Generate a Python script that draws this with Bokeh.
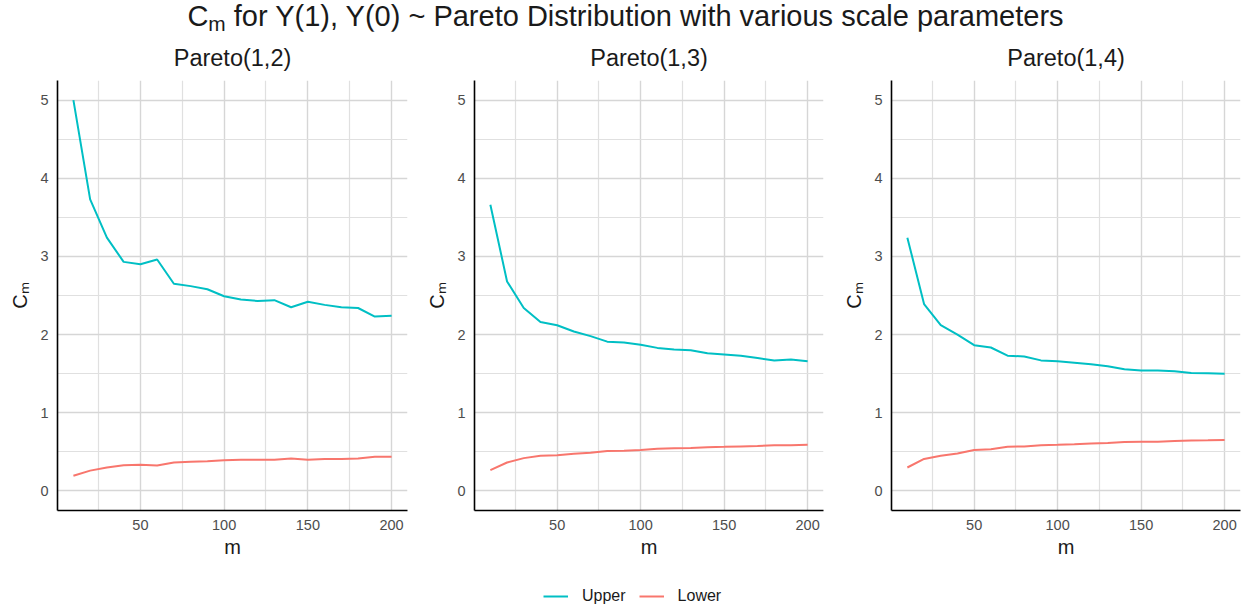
from bokeh.plotting import figure
from bokeh.models import (Range1d, FixedTicker, Div, Legend, LegendItem)
from bokeh.layouts import column, row
from bokeh.embed import file_html
from bokeh.resources import INLINE

# ---------------- data ----------------
m_values = [10, 20, 30, 40, 50, 60, 70, 80, 90, 100,
            110, 120, 130, 140, 150, 160, 170, 180, 190, 200]

panel_titles = ["Pareto(1,2)", "Pareto(1,3)", "Pareto(1,4)"]

upper_p2 = [5.00, 3.73, 3.24, 2.93, 2.90, 2.96, 2.65, 2.62, 2.58, 2.49,
            2.45, 2.43, 2.44, 2.35, 2.42, 2.38, 2.35, 2.34, 2.23, 2.24]
lower_p2 = [0.195, 0.26, 0.30, 0.33, 0.335, 0.326, 0.364, 0.373, 0.38, 0.394,
            0.40, 0.40, 0.40, 0.415, 0.40, 0.41, 0.41, 0.415, 0.436, 0.436]

upper_p3 = [3.66, 2.68, 2.34, 2.16, 2.12, 2.04, 1.98, 1.91, 1.90, 1.87,
            1.83, 1.81, 1.80, 1.76, 1.745, 1.73, 1.70, 1.67, 1.68, 1.66]
lower_p3 = [0.267, 0.364, 0.42, 0.45, 0.458, 0.475, 0.49, 0.51, 0.513, 0.525,
            0.54, 0.547, 0.55, 0.56, 0.564, 0.57, 0.576, 0.585, 0.585, 0.59]

upper_p4 = [3.24, 2.39, 2.12, 2.00, 1.865, 1.835, 1.73, 1.72, 1.67, 1.66,
            1.64, 1.62, 1.595, 1.556, 1.54, 1.54, 1.53, 1.51, 1.505, 1.50]
lower_p4 = [0.30, 0.41, 0.45, 0.48, 0.525, 0.534, 0.564, 0.57, 0.585, 0.59,
            0.597, 0.606, 0.614, 0.627, 0.63, 0.63, 0.64, 0.644, 0.648, 0.653]

x_major_ticks = [50, 100, 150, 200]
x_minor_ticks = [25, 75, 125, 175]
y_major_ticks = [0, 1, 2, 3, 4, 5]
y_minor_ticks = [0.5, 1.5, 2.5, 3.5, 4.5]

series_names = ["Upper", "Lower"]
UPPER_COLOR = "#00BFC4"
LOWER_COLOR = "#F8766D"
FONT = "Liberation Sans"

# ---------------- layout ----------------
title_div = Div(
    text='C<sub style="font-size:0.72em;vertical-align:-0.25em">m</sub> for Y(1), Y(0) ~ Pareto Distribution with various scale parameters',
    width=1247, height=31, margin=(0, 0, 0, 0),
    styles={"font-family": FONT, "font-size": "29px", "line-height": "32px",
            "text-align": "center", "color": "#1a1a1a", "width": "1247px",
            "padding-left": "4px"},
)

panels = [
    (panel_titles[0], upper_p2, lower_p2, 423, 57, 16),
    (panel_titles[1], upper_p3, lower_p3, 417, 50, 17),
    (panel_titles[2], upper_p4, lower_p4, 407, 50, 7),
]

figs = []
for title, up, lo, w, bl, br in panels:
    p = figure(width=w, height=534, output_backend="svg", toolbar_location=None,
               x_range=Range1d(0.5, 209.5), y_range=Range1d(-0.25, 5.25),
               min_border_left=bl, min_border_right=br, min_border_top=49,
               min_border_bottom=55, title=title)
    p.outline_line_color = None
    p.background_fill_color = "white"
    p.border_fill_color = "white"
    p.title.align = "center"
    p.title.text_font = FONT
    p.title.text_font_size = "23.5px"
    p.title.text_font_style = "normal"
    p.title.text_color = "#1a1a1a"
    p.title.standoff = 19

    p.xaxis.ticker = FixedTicker(ticks=x_major_ticks, minor_ticks=x_minor_ticks)
    p.yaxis.ticker = FixedTicker(ticks=y_major_ticks, minor_ticks=y_minor_ticks)
    for ax in (p.xaxis[0], p.yaxis[0]):
        ax.axis_line_color = "black"
        ax.axis_line_width = 1.6
        ax.major_tick_line_color = None
        ax.minor_tick_line_color = None
        ax.major_tick_in = 0
        ax.major_tick_out = 0
        ax.minor_tick_in = 0
        ax.minor_tick_out = 0
        ax.major_label_text_font = FONT
        ax.major_label_text_font_size = "14.5px"
        ax.major_label_text_color = "#4d4d4d"
        ax.axis_label_text_font = FONT
        ax.axis_label_text_font_size = "20px"
        ax.axis_label_text_font_style = "normal"
        ax.axis_label_text_color = "#1a1a1a"
    p.xaxis.axis_label = "m"
    p.yaxis.axis_label = "Cₘ"
    p.xaxis.major_label_standoff = 9
    p.yaxis.major_label_standoff = 9
    p.xaxis.axis_label_standoff = 3
    p.yaxis.axis_label_standoff = 6

    for g in (p.xgrid[0], p.ygrid[0]):
        g.grid_line_color = "#d6d6d6"
        g.grid_line_width = 1.4
        g.minor_grid_line_color = "#e0e0e0"
        g.minor_grid_line_width = 1.2

    p.line(m_values, up, line_color=UPPER_COLOR, line_width=2)
    p.line(m_values, lo, line_color=LOWER_COLOR, line_width=2)
    figs.append(p)

# legend-only strip: the series are drawn outside its visible range,
# only their legend glyphs show
leg = figure(width=1247, height=44, output_backend="svg", toolbar_location=None,
             x_range=Range1d(-20, -10), y_range=Range1d(0, 1),
             min_border=0, outline_line_color=None)
leg.axis.visible = False
leg.grid.visible = False
r_up = leg.line(m_values, upper_p2, line_color=UPPER_COLOR, line_width=2)
r_lo = leg.line(m_values, lower_p2, line_color=LOWER_COLOR, line_width=2)
legend = Legend(items=[LegendItem(label=series_names[0], renderers=[r_up]),
                       LegendItem(label=series_names[1], renderers=[r_lo])],
                orientation="horizontal", location=(543, 3),
                border_line_color=None, background_fill_alpha=0,
                label_text_font=FONT, label_text_font_size="16px",
                label_text_color="#1a1a1a",
                glyph_width=25, glyph_height=20, label_standoff=14,
                spacing=13, padding=0, margin=0)
leg.add_layout(legend, "center")

layout = column(title_div, row(*figs, spacing=0), leg, spacing=0)
open("out.html", "w").write(file_html(layout, INLINE))
